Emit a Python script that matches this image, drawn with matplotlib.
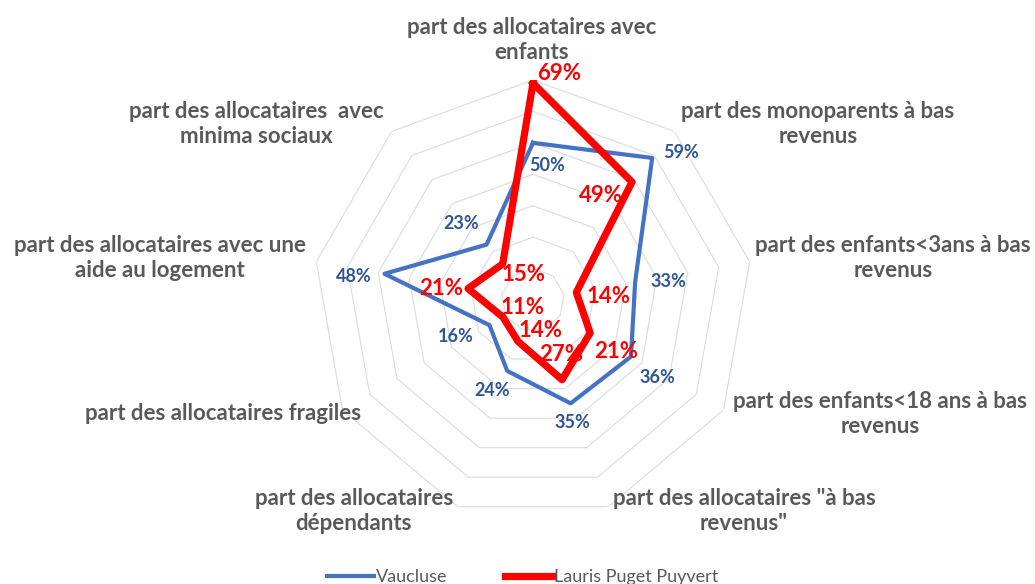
import numpy as np
import matplotlib.pyplot as plt

categories = [
    "part des allocataires avec\nenfants",
    "part des monoparents à bas\nrevenus",
    "part des enfants<3ans à bas\nrevenus",
    "part des enfants<18 ans à bas\nrevenus",
    "part des allocataires \"à bas\nrevenus\"",
    "part des allocataires\ndépendants",
    "part des allocataires fragiles",
    "part des allocataires avec une\naide au logement",
    "part des allocataires  avec\nminima sociaux",
]
vaucluse = [0.50, 0.59, 0.33, 0.36, 0.35, 0.24, 0.16, 0.48, 0.23]
lauris = [0.69, 0.49, 0.14, 0.21, 0.27, 0.14, 0.11, 0.21, 0.15]
rings = [0.1, 0.2, 0.3, 0.4, 0.5, 0.6, 0.7]

# label placement (pixel centres in the 1035x584 figure)
label_pos = [(532, 40), (818, 124), (893, 258), (880, 414), (744, 511),
             (354, 511), (223, 413), (160, 258), (256, 124)]
# data label offsets in points
v_off = [(10, -16), (21, 4), (24, 0), (19, -15), (1, -14), (-11, -14), (-24, -8), (-22, -2), (-18, 15)]
l_off = [(19, 7), (-22, -10), (23, -3), (19, -13), (-1, 18), (16, 8), (14, 7), (-19, 0), (15, -8)]

W, H = 1035, 584
fig = plt.figure(figsize=(W / 100, H / 100), dpi=100)
cx, cy, R = 533, 284, 220
ax = fig.add_axes([(cx - R) / W, (cy - R) / H, 2 * R / W, 2 * R / H], projection='polar')
ax.set_theta_zero_location('N')
ax.set_theta_direction(-1)
ax.set_ylim(0, 0.7)
ax.axis('off')

n = len(categories)
theta = np.linspace(0, 2 * np.pi, n, endpoint=False)
tc = np.append(theta, theta[0])

for r in rings:
    ax.plot(tc, [r] * (n + 1), color='#dcdcdc', lw=0.8, zorder=1)

ax.plot(tc, vaucluse + vaucluse[:1], color='#4472c4', lw=3.0, zorder=3, label='Vaucluse')
ax.plot(tc, lauris + lauris[:1], color='#ff0000', lw=5.2, zorder=4, label='Lauris Puget Puyvert')

for t, v, off in zip(theta, vaucluse, v_off):
    ax.annotate(f"{round(v * 100)}%", (t, v), xytext=off, textcoords='offset points',
                ha='center', va='center', color='#2f5597', fontsize=13,
                fontweight='bold', family='Lato', zorder=5)
for t, v, off in zip(theta, lauris, l_off):
    ax.annotate(f"{round(v * 100)}%", (t, v), xytext=off, textcoords='offset points',
                ha='center', va='center', color='#ff0000', fontsize=16,
                fontweight='bold', family='Lato', zorder=6)

for lab, (x, y) in zip(categories, label_pos):
    fig.text(x / W, 1 - y / H, lab, ha='center', va='center', color='#595959',
             fontsize=16, fontweight='bold', family='Lato', linespacing=1.25)

fig.legend(loc='center', bbox_to_anchor=(0.505, 1 - 577 / H), ncol=2, frameon=False,
           prop={'family': 'Lato', 'size': 13}, labelcolor='#595959',
           handlelength=2.6, handletextpad=0.1, columnspacing=3.2)

fig.savefig('out.png', dpi=100)
